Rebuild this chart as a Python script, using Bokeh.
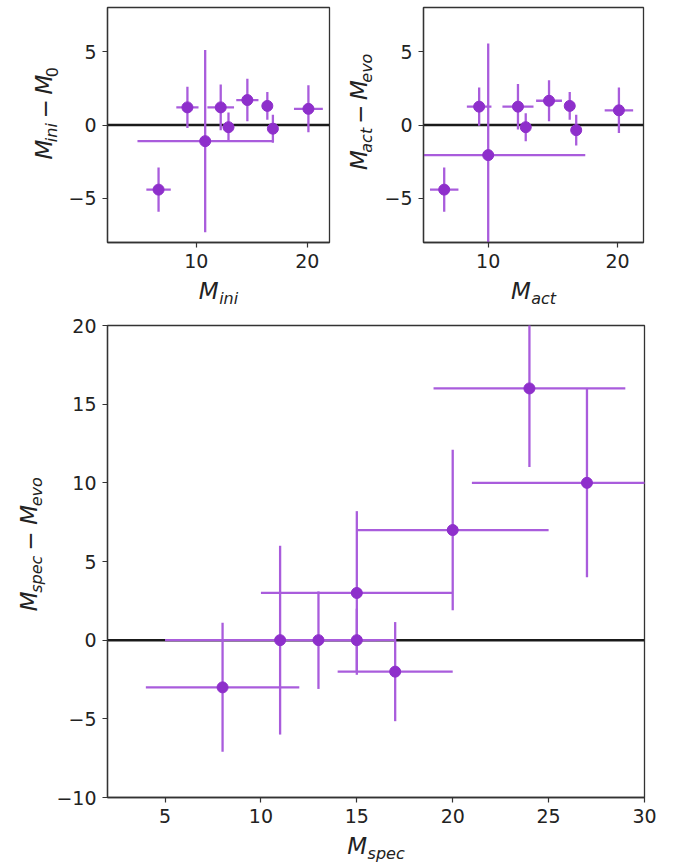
import math
from bokeh.plotting import figure
from bokeh.layouts import column, row
from bokeh.models import (ColumnDataSource, Span, FixedTicker,
                          CustomJSTickFormatter, Range1d)
from bokeh.core.properties import value
from bokeh.embed import file_html
from bokeh.resources import INLINE

# ---------------- data ----------------
# top-left: M_ini vs (M_ini - M_0)
m_ini = [6.6, 9.2, 10.8, 12.2, 12.9, 14.6, 16.4, 16.9, 20.1]
m_ini_err = [1.1, 1.0, 6.1, 1.2, 0.3, 1.0, 0.3, 0.3, 1.3]
d_ini = [-4.4, 1.2, -1.1, 1.2, -0.15, 1.7, 1.3, -0.25, 1.1]
d_ini_err = [1.5, 1.4, 6.2, 1.55, 1.0, 1.45, 0.95, 0.95, 1.6]

# top-right: M_act vs (M_act - M_evo)
m_act = [6.6, 9.3, 10.0, 12.3, 12.9, 14.7, 16.3, 16.8, 20.1]
m_act_err = [1.1, 0.95, 7.5, 1.2, 0.3, 1.0, 0.3, 0.3, 1.1]
d_act = [-4.4, 1.25, -2.05, 1.25, -0.15, 1.65, 1.3, -0.35, 1.0]
d_act_err = [1.5, 1.3, 7.6, 1.55, 0.95, 1.4, 0.95, 1.05, 1.55]

# bottom: M_spec vs (M_spec - M_evo)
m_spec = [8, 11, 13, 15, 15, 17, 20, 24, 27]
m_spec_err = [4, 6, 1, 5, 1, 3, 5, 5, 6]
d_spec = [-3, 0, 0, 3, 0, -2, 7, 16, 10]
d_spec_err = [4.1, 6, 3.1, 5.2, 2, 3.15, 5.1, 5, 6]

top_xticks = [10, 20]
top_yticks = [-5, 0, 5]
bot_xticks = [5, 10, 15, 20, 25, 30]
bot_yticks = [-10, -5, 0, 5, 10, 15, 20]

# ---------------- style ----------------
LINE = "#A95CDC"
DOT = "#8E2FCB"
FONT = "DejaVu Sans"
TXT = "#222222"
AX = "#333333"

fmt_code = "return tick < 0 ? '\u2212' + Math.abs(tick) : tick.toString();"


def make_fig(width, height, borders, xr, yr, xticks, yticks):
    l, r, t, b = borders
    p = figure(width=width, height=height, x_range=Range1d(*xr), y_range=Range1d(*yr),
               output_backend="svg", toolbar_location=None, title=None,
               min_border_left=l, min_border_right=r,
               min_border_top=t, min_border_bottom=b)
    p.grid.visible = False
    p.outline_line_color = AX
    p.outline_line_width = 1.3
    p.xaxis.ticker = FixedTicker(ticks=xticks)
    p.yaxis.ticker = FixedTicker(ticks=yticks)
    for ax in (p.xaxis, p.yaxis):
        ax.formatter = CustomJSTickFormatter(code=fmt_code)
        ax.minor_tick_line_color = None
        ax.major_tick_in = 0
        ax.major_tick_out = 5
        ax.major_tick_line_color = AX
        ax.major_tick_line_width = 1.2
        ax.axis_line_color = AX
        ax.axis_line_width = 1.3
        ax.major_label_text_font = FONT
        ax.major_label_text_font_size = "19px"
        ax.major_label_text_color = TXT
    p.xaxis.major_label_standoff = 6
    p.yaxis.major_label_standoff = 6
    p.add_layout(Span(location=0, dimension="width", line_color="#1a1a1a",
                      line_width=2.5, level="underlay"))
    return p


def errorbars(p, x, xe, y, ye, size):
    src = ColumnDataSource(dict(
        x=x, y=y,
        x0=[a - e for a, e in zip(x, xe)], x1=[a + e for a, e in zip(x, xe)],
        y0=[a - e for a, e in zip(y, ye)], y1=[a + e for a, e in zip(y, ye)]))
    p.segment(x0="x0", y0="y", x1="x1", y1="y", source=src,
              line_color=LINE, line_width=2.3)
    p.segment(x0="x", y0="y0", x1="x", y1="y1", source=src,
              line_color=LINE, line_width=2.3)
    p.scatter("x", "y", source=src, size=size, color=DOT)


def strip(width, height):
    """Blank figure used only to hold axis-label text (frame = whole canvas)."""
    s = figure(width=width, height=height, x_range=Range1d(0, width),
               y_range=Range1d(0, height), output_backend="svg",
               toolbar_location=None, title=None, min_border=0,
               x_axis_type=None, y_axis_type=None)
    s.grid.visible = False
    s.outline_line_color = None
    return s


# ---------------- math-like axis labels built from text pieces ----------------
W = {'M': 0.863, 'i': 0.278, 'n': 0.634, 'a': 0.613, 'c': 0.550, 't': 0.392,
     's': 0.521, 'p': 0.635, 'e': 0.615, 'v': 0.592, 'o': 0.612, '0': 0.636,
     '\u2212': 0.838}
FS = 23
SUBFS = 16
SHIFT = 5
GAP = 9
MID = 0.35   # distance (in em) from baseline up to the middle of the text box


def math_label(s, parts, center, base, vertical):
    # parts: (text, italic, subscript, gap_before); base = baseline position
    items = []
    pos = 0.0
    for text, italic, sub, gap in parts:
        pos += gap
        fs = SUBFS if sub else FS
        items.append((text, italic, sub, pos, fs))
        pos += sum(W[c] for c in text) * fs
    start = center - pos / 2.0
    for text, italic, sub, off, fs in items:
        drop = (SHIFT if sub else 0) - MID * fs
        if vertical:
            x, y, ang = base + drop, start + off, math.pi / 2
        else:
            x, y, ang = start + off, base - drop, 0
        s.text(x=[x], y=[y], text=[text], angle=ang,
               text_font=value(FONT), text_font_size=f"{fs}px",
               text_font_style="italic" if italic else "normal",
               text_color=TXT, text_align="left", text_baseline="middle")


def label_parts(sub1, sub2, sub2_italic=True):
    return [("M", True, False, 0), (sub1, True, True, 0.5),
            ("\u2212", False, False, GAP), ("M", True, False, GAP),
            (sub2, sub2_italic, True, 0.5)]


# ---------------- figures ----------------
# top-left block (page x 0..340, y 0..315)
p1 = make_fig(278, 277, (45, 11, 7, 35), (2, 22), (-8, 8), top_xticks, top_yticks)
errorbars(p1, m_ini, m_ini_err, d_ini, d_ini_err, 11)
yl1 = strip(62, 277)
math_label(yl1, label_parts("ini", "0", False), 151.5, 52, True)
xl1 = strip(340, 38)
math_label(xl1, [("M", True, False, 0), ("ini", True, True, 0.5)], 218, 16, False)

# top-right block (page x 340..680)
p2 = make_fig(300, 277, (43, 37, 7, 35), (5, 22), (-8, 8), top_xticks, top_yticks)
errorbars(p2, m_act, m_act_err, d_act, d_act_err, 11)
yl2 = strip(40, 277)
math_label(yl2, label_parts("act", "evo"), 151.5, 27, True)
xl2 = strip(340, 38)
math_label(xl2, [("M", True, False, 0), ("act", True, True, 0.5)], 193, 16, False)

# bottom block (page y 315..863)
p3 = make_fig(630, 517, (57, 36, 10, 35), (2, 30), (-10, 20), bot_xticks, bot_yticks)
errorbars(p3, m_spec, m_spec_err, d_spec, d_spec_err, 11)
yl3 = strip(50, 517)
math_label(yl3, label_parts("spec", "evo"), 276, 37, True)
xl3 = strip(680, 31)
math_label(xl3, [("M", True, False, 0), ("spec", True, True, 0.5)], 375.5, 9, False)

top = row(column(row(yl1, p1), xl1), column(row(yl2, p2), xl2))
bottom = column(row(yl3, p3), xl3)
layout = column(top, bottom)

open("out.html", "w").write(file_html(layout, INLINE))
